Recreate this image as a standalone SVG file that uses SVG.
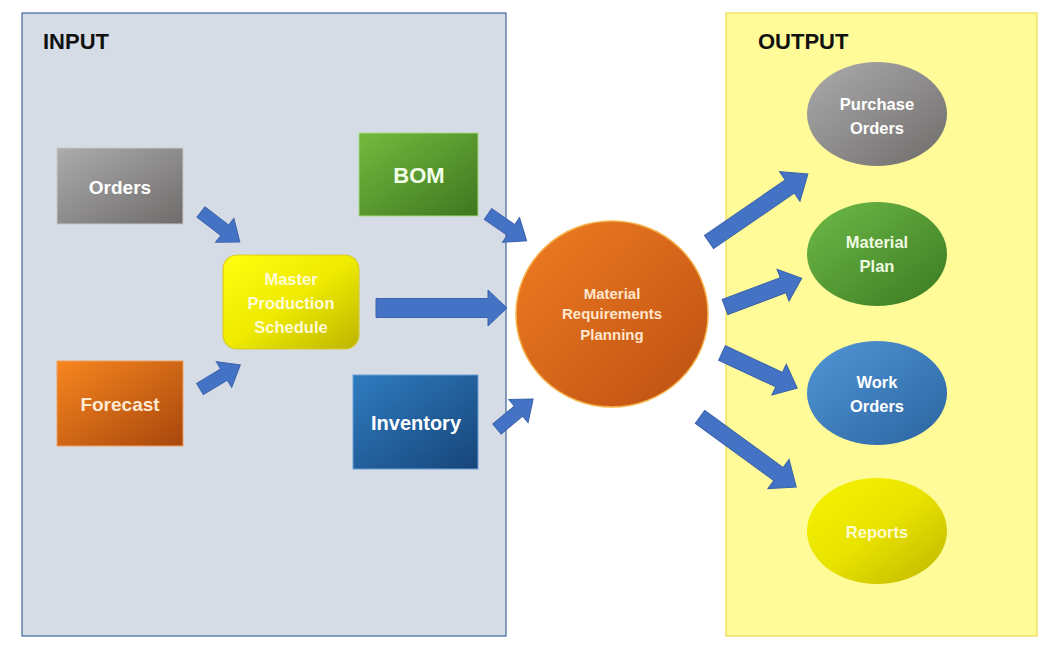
<svg xmlns="http://www.w3.org/2000/svg" width="1049" height="655" viewBox="0 0 1049 655">
<style>
  .t{font-family:"Liberation Sans",Arial,sans-serif;font-weight:bold;text-anchor:middle}
  .hdr{font-family:"Liberation Sans",Arial,sans-serif;font-weight:bold;font-size:22px;fill:#111}
  .arr{fill:#4472c4;stroke:#3b63ab;stroke-width:1;stroke-linejoin:miter}
</style>
<defs>
  <linearGradient id="gGray" x1="0" y1="0" x2="1" y2="1"><stop offset="0" stop-color="#acacac"/><stop offset="1" stop-color="#6f6b6b"/></linearGradient>
  <linearGradient id="gGreen" x1="0" y1="0" x2="1" y2="1"><stop offset="0" stop-color="#74ba3e"/><stop offset="1" stop-color="#3e7720"/></linearGradient>
  <linearGradient id="gYellow" x1="0" y1="0" x2="1" y2="1"><stop offset="0" stop-color="#ffff10"/><stop offset="0.5" stop-color="#eeea00"/><stop offset="1" stop-color="#bdb400"/></linearGradient>
  <linearGradient id="gOrange" x1="0" y1="0" x2="1" y2="1"><stop offset="0" stop-color="#f7861f"/><stop offset="1" stop-color="#a8470d"/></linearGradient>
  <linearGradient id="gBlue" x1="0" y1="0" x2="1" y2="1"><stop offset="0" stop-color="#2f7cc0"/><stop offset="1" stop-color="#17457a"/></linearGradient>
  <linearGradient id="gMrp" x1="0" y1="0" x2="1" y2="1"><stop offset="0" stop-color="#f07d22"/><stop offset="1" stop-color="#bc4f12"/></linearGradient>
  <linearGradient id="gWork" x1="0" y1="0" x2="1" y2="1"><stop offset="0" stop-color="#5296d6"/><stop offset="1" stop-color="#2a64a0"/></linearGradient>
  <linearGradient id="gPlan" x1="0" y1="0" x2="1" y2="1"><stop offset="0" stop-color="#6fba48"/><stop offset="1" stop-color="#3a7a22"/></linearGradient>
  <linearGradient id="gRep" x1="0" y1="0" x2="1" y2="1"><stop offset="0" stop-color="#f8f400"/><stop offset="0.5" stop-color="#e8e200"/><stop offset="1" stop-color="#bdb500"/></linearGradient>
</defs>
<rect x="0" y="0" width="1049" height="655" fill="#ffffff"/>
<g id="input-panel">
  <rect x="22" y="13" width="484" height="623" fill="#d6dce5" stroke="#4a6fa5" stroke-width="1.3"/>
  <text class="hdr" x="43" y="49">INPUT</text>
</g>
<g id="output-panel">
  <rect x="726" y="13" width="311" height="623" fill="#fffb98" stroke="#eedc55" stroke-width="1.3"/>
  <text class="hdr" x="758" y="49">OUTPUT</text>
</g>
<g id="connectors">
  <polygon class="arr" transform="translate(201,212) rotate(37.6)" points="0,-6.5 30,-6.5 30,-15 49,0 30,15 30,6.5 0,6.5"/>
  <polygon class="arr" transform="translate(200,389) rotate(-31)" points="0,-6.5 28,-6.5 28,-15 47,0 28,15 28,6.5 0,6.5"/>
  <polygon class="arr" transform="translate(488,214) rotate(34.7)" points="0,-6.5 28,-6.5 28,-15 47,0 28,15 28,6.5 0,6.5"/>
  <polygon class="arr" transform="translate(376,308) rotate(0)" points="0,-9.5 112,-9.5 112,-18 131,0 112,18 112,9.5 0,9.5"/>
  <polygon class="arr" transform="translate(497,429) rotate(-39.8)" points="0,-6.5 28,-6.5 28,-15 47,0 28,15 28,6.5 0,6.5"/>
  <polygon class="arr" transform="translate(709,242) rotate(-34.5)" points="0,-8 98,-8 98,-18 120,0 98,18 98,8 0,8"/>
  <polygon class="arr" transform="translate(725,307) rotate(-20.6)" points="0,-8 62,-8 62,-17 82,0 62,17 62,8 0,8"/>
  <polygon class="arr" transform="translate(722,353) rotate(25)" points="0,-8 63,-8 63,-17 83,0 63,17 63,8 0,8"/>
  <polygon class="arr" transform="translate(700,417) rotate(36)" points="0,-8 97,-8 97,-18 119,0 97,18 97,8 0,8"/>
</g>
<g id="orders">
  <rect x="57" y="148" width="126" height="76" fill="url(#gGray)" stroke="#c8c8c8" stroke-width="1"/>
  <text class="t" x="120" y="194" font-size="19" fill="#ffffff">Orders</text>
</g>
<g id="forecast">
  <rect x="57" y="361" width="126" height="85" fill="url(#gOrange)" stroke="#f2a060" stroke-width="1"/>
  <text class="t" x="120" y="411" font-size="19" fill="#ffe9d2">Forecast</text>
</g>
<g id="bom">
  <rect x="359" y="133" width="119" height="83" fill="url(#gGreen)" stroke="#a4d880" stroke-width="1"/>
  <text class="t" x="419" y="183" font-size="22" fill="#f2ffe8">BOM</text>
</g>
<g id="inventory">
  <rect x="353" y="375" width="125" height="94" fill="url(#gBlue)" stroke="#6aa0d8" stroke-width="1"/>
  <text class="t" x="416" y="430" font-size="20" fill="#ffffff">Inventory</text>
</g>
<g id="mps">
  <rect x="223" y="255" width="136" height="94" rx="14" ry="14" fill="url(#gYellow)" stroke="#d6c830" stroke-width="1.2"/>
  <text class="t" x="291" y="285" font-size="16.5" fill="#fffbd8">Master</text>
  <text class="t" x="291" y="309" font-size="16.5" fill="#fffbd8">Production</text>
  <text class="t" x="291" y="333" font-size="16.5" fill="#fffbd8">Schedule</text>
</g>
<g id="mrp">
  <ellipse cx="612" cy="314" rx="96" ry="93" fill="url(#gMrp)" stroke="#f6b24a" stroke-width="1.5"/>
  <text class="t" x="612" y="299" font-size="15" fill="#ffe6cc">Material</text>
  <text class="t" x="612" y="319" font-size="15" fill="#ffe6cc">Requirements</text>
  <text class="t" x="612" y="340" font-size="15" fill="#ffe6cc">Planning</text>
</g>
<g id="purchase-orders">
  <ellipse cx="877" cy="114" rx="70" ry="52" fill="url(#gGray)"/>
  <text class="t" x="877" y="110" font-size="16.5" fill="#ffffff">Purchase</text>
  <text class="t" x="877" y="134" font-size="16.5" fill="#ffffff">Orders</text>
</g>
<g id="material-plan">
  <ellipse cx="877" cy="254" rx="70" ry="52" fill="url(#gPlan)"/>
  <text class="t" x="877" y="248" font-size="16.5" fill="#eefae0">Material</text>
  <text class="t" x="877" y="272" font-size="16.5" fill="#eefae0">Plan</text>
</g>
<g id="work-orders">
  <ellipse cx="877" cy="393" rx="70" ry="52" fill="url(#gWork)"/>
  <text class="t" x="877" y="388" font-size="16.5" fill="#ffffff">Work</text>
  <text class="t" x="877" y="412" font-size="16.5" fill="#ffffff">Orders</text>
</g>
<g id="reports">
  <ellipse cx="877" cy="531" rx="70" ry="53" fill="url(#gRep)"/>
  <text class="t" x="877" y="538" font-size="16.5" fill="#fffbd0">Reports</text>
</g>
</svg>
